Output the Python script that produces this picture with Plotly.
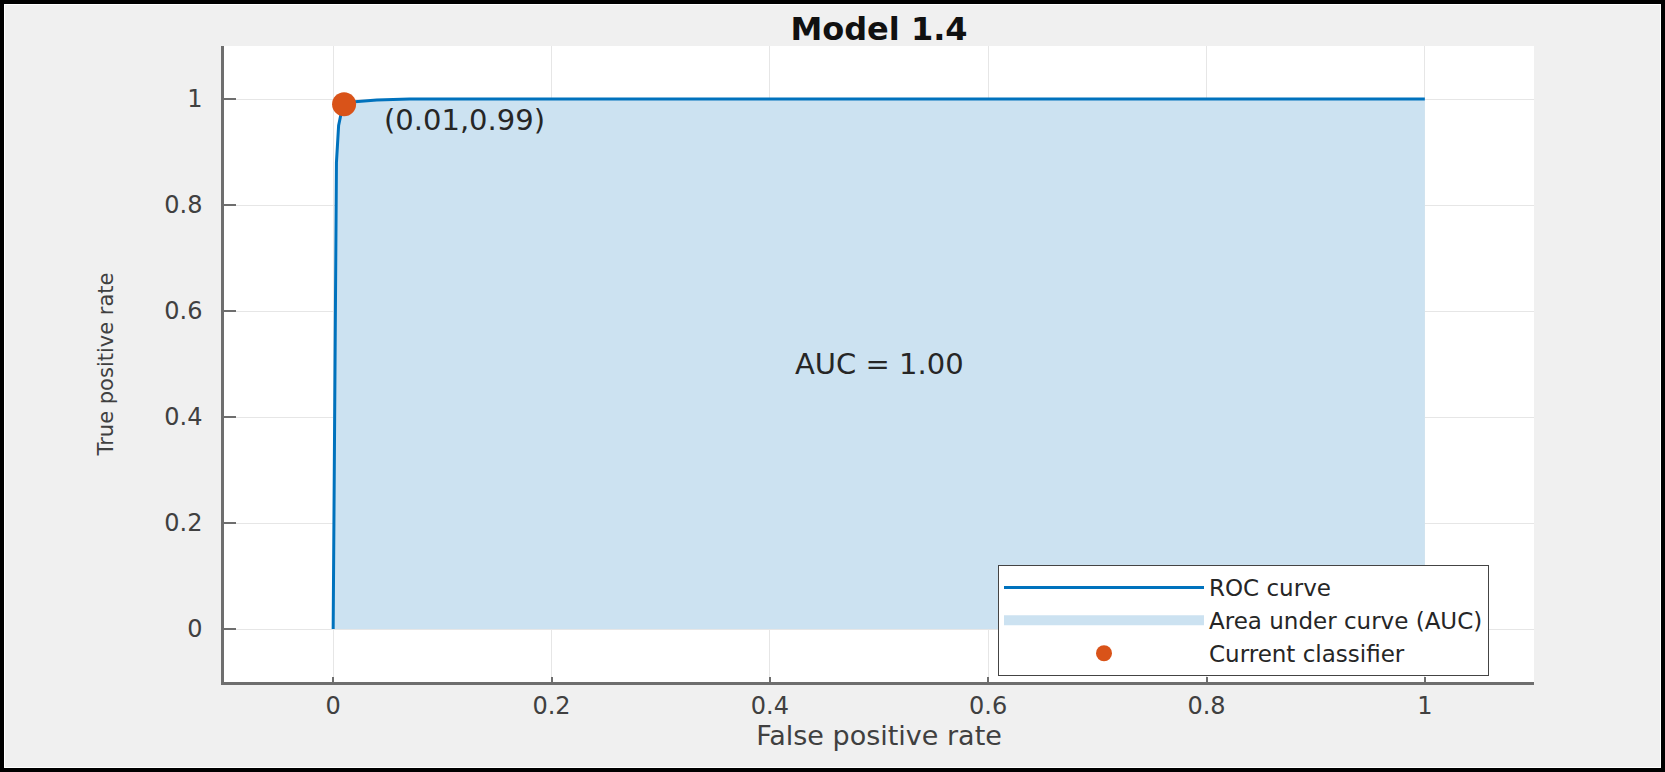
import plotly.graph_objects as go

# ROC data
fpr = [0.0, 0.001, 0.002, 0.003, 0.005, 0.008, 0.01, 0.02, 0.04, 0.07, 0.1, 0.5, 1.0]
tpr = [0.0, 0.30, 0.70, 0.88, 0.95, 0.98, 0.99, 0.995, 0.998, 1.0, 1.0, 1.0, 1.0]
current_fpr = [0.01]
current_tpr = [0.99]
auc_value = 1.00
tick_vals = [0, 0.2, 0.4, 0.6, 0.8, 1]
tick_text = ["0", "0.2", "0.4", "0.6", "0.8", "1"]

W, H = 1665, 772
L, R, T, B = 224, 131, 46, 90
PW, PH = W - L - R, H - T - B

FONT = "DejaVu Sans"
BLUE = "#0072BD"
FILL = "rgb(204,226,241)"
ORANGE = "#D95319"

fig = go.Figure()
# area under curve (fill only)
fig.add_trace(go.Scatter(
    x=fpr, y=tpr, mode="lines", fill="tozeroy", fillcolor=FILL,
    line=dict(width=0, color=FILL), showlegend=False, hoverinfo="skip"))
# legend proxy for the area
fig.add_trace(go.Scatter(
    x=[None], y=[None], mode="lines", line=dict(width=20, color=FILL),
    name="Area under curve (AUC)", legendrank=2))
fig.add_trace(go.Scatter(
    x=fpr, y=tpr, mode="lines", line=dict(width=3, color=BLUE),
    name="ROC curve", legendrank=1))
fig.add_trace(go.Scatter(
    x=current_fpr, y=current_tpr, mode="markers",
    marker=dict(size=24, color=ORANGE), name="Current classifier",
    legendrank=3))

fig.add_annotation(x=0.5, y=0.5, xref="x", yref="y",
                   text=f"AUC = {auc_value:.2f}", showarrow=False,
                   font=dict(family=FONT, size=29, color="#262626"))
fig.add_annotation(x=current_fpr[0] + 0.035, y=current_tpr[0] - 0.03,
                   xref="x", yref="y", xanchor="left", yanchor="middle",
                   text=f"({current_fpr[0]:.2f},{current_tpr[0]:.2f})",
                   showarrow=False,
                   font=dict(family=FONT, size=29, color="#262626"))

# outer black frame
fx0, fx1 = -L / PW, (W - L) / PW
fy0, fy1 = -B / PH, (H - B) / PH
fig.add_shape(type="rect", xref="paper", yref="paper",
              x0=fx0, x1=fx1, y0=fy0, y1=fy1,
              line=dict(color="black", width=8), layer="above")
fig.add_shape(type="rect", xref="paper", yref="paper",
              x0=fx0 + 4.5 / PW, x1=fx1 - 4.5 / PW,
              y0=fy0 + 4.5 / PH, y1=fy1 - 4.5 / PH,
              line=dict(color="white", width=1), layer="above")

axis_common = dict(
    range=[-0.1, 1.1], tickvals=tick_vals, ticktext=tick_text,
    showgrid=True, gridcolor="#e6e6e6", gridwidth=1, zeroline=False,
    showline=True, linecolor="#6e6e6e", linewidth=2.5,
    ticks="inside", tickcolor="#6e6e6e", tickwidth=1.5,
    tickfont=dict(family=FONT, size=24, color="#404040"),
    fixedrange=True, automargin=False,
)
fig.update_layout(
    width=W, height=H,
    margin=dict(l=L, r=R, t=T, b=B, autoexpand=False),
    paper_bgcolor="#f0f0f0", plot_bgcolor="white",
    title=dict(text="<b>Model 1.4</b>", x=0.5, xref="paper",
               y=1 - 28.7 / H, yref="container", yanchor="middle",
               font=dict(family=FONT, size=32, color="#111111")),
    xaxis=dict(**axis_common, ticklen=5, ticklabelstandoff=0,
               title=dict(text="False positive rate", standoff=4,
                          font=dict(family=FONT, size=27, color="#404040"))),
    yaxis=dict(**axis_common, ticklen=12, ticklabelstandoff=14,
               title=dict(text="True positive rate", standoff=45,
                          font=dict(family=FONT, size=21, color="#404040"))),
    legend=dict(x=(1489 - L) / PW, y=(H - B - 676) / PH,
                xanchor="right", yanchor="bottom",
                bgcolor="white", bordercolor="#444444", borderwidth=1,
                font=dict(family=FONT, size=23, color="#262626"),
                itemwidth=200, tracegroupgap=0),
    showlegend=True,
)

fig.write_html("out.html",
               config={"displayModeBar": False},
               post_script="document.body.style.margin='0';"
                           "document.body.style.overflow='hidden';")
